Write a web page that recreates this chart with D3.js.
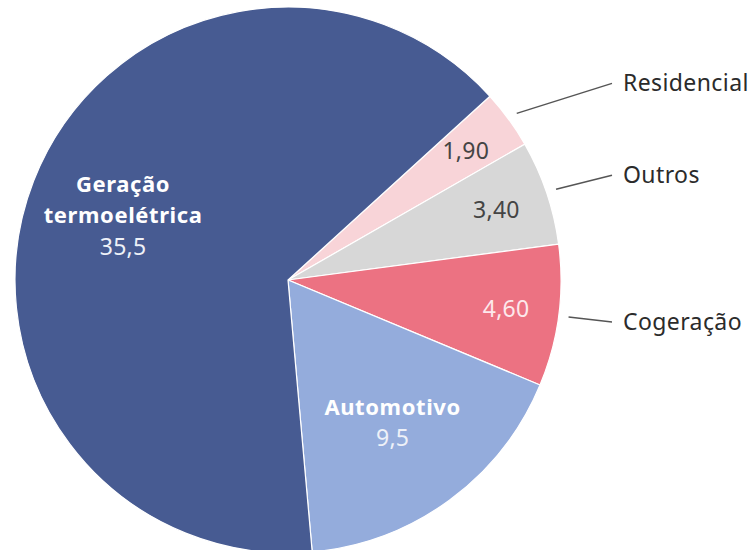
<!DOCTYPE html>
<head>
    <meta charset="utf-8">
    <script src="https://d3js.org/d3.v7.min.js"></script>
    <style>
        body { margin: 0; background: #fff; }
        text { font-family: "Noto Sans", sans-serif; }
    </style>
</head>
<body>
    <svg></svg>
</body>

<script>
    // Data (million)
    var names = ["Residencial", "Outros", "Cogeração", "Automotivo", "Geração termoelétrica"];
    var values = [1.9, 3.4, 4.6, 9.5, 35.5];
    var valueLabels = ["1,90", "3,40", "4,60", "9,5", "35,5"];
    var colors = ["#f8d4d8", "#d7d7d7", "#ec7282", "#94acdc", "#475b92"];

    // Variables
    var width = 753;
    var height = 550;
    var cx = 288, cy = 280;
    var radius = 273;
    var start = 47.7 * Math.PI / 180;

    // labels inside the big slices, leader lines for the small ones
    var inside = { "Automotivo": ["Automotivo"], "Geração termoelétrica": ["Geração", "termoelétrica"] };
    var leaderDy = { "Residencial": -30, "Outros": -14, "Cogeração": 5 };
    var numColor = { "Residencial": "#444", "Outros": "#444", "Cogeração": "#fde8ec" };

    var svg = d3.select('svg')
        .attr('width', width)
        .attr('height', height);

    var g = svg.append('g')
        .attr('transform', 'translate(' + cx + ',' + cy + ')');

    var data = names.map(function (n, i) {
        return { name: n, value: values[i], label: valueLabels[i], color: colors[i] };
    });

    var pie = d3.pie()
        .sort(null)
        .value(function (d) { return d.value; })
        .startAngle(start)
        .endAngle(start + 2 * Math.PI);

    var arcs = pie(data);

    var arc = d3.arc().innerRadius(0).outerRadius(radius);
    var smallLabelArc = d3.arc().innerRadius(220).outerRadius(220);
    var bigLabelArc = d3.arc().innerRadius(177).outerRadius(177);
    var leaderArc = d3.arc().innerRadius(radius + 10).outerRadius(radius + 10);

    // Slices
    g.selectAll('path.slice')
        .data(arcs)
        .enter().append('path')
        .attr('class', 'slice')
        .attr('d', arc)
        .style('fill', function (d) { return d.data.color; })
        .style('stroke', '#fff')
        .style('stroke-width', 1.2);

    // Big slices: name + value inside
    arcs.filter(function (d) { return inside[d.data.name]; }).forEach(function (d) {
        var c = bigLabelArc.centroid(d);
        var lines = inside[d.data.name].concat([d.data.label]);
        var step = 31;
        var y0 = c[1] - (lines.length - 1) * step / 2;
        lines.forEach(function (t, i) {
            var last = i === lines.length - 1;
            g.append('text')
                .attr('x', c[0])
                .attr('y', y0 + i * step)
                .attr('dy', '0.35em')
                .attr('text-anchor', 'middle')
                .style('font-size', last ? '23px' : '22px')
                .style('letter-spacing', last ? '0.3px' : '0.6px')
                .style('font-weight', last ? 'normal' : 'bold')
                .style('fill', last ? '#eef1f8' : '#fff')
                .text(t);
        });
    });

    // Small slices: value inside, name outside with a leader line
    arcs.filter(function (d) { return !inside[d.data.name]; }).forEach(function (d) {
        var c = smallLabelArc.centroid(d);
        g.append('text')
            .attr('x', c[0])
            .attr('y', c[1])
            .attr('dy', '0.35em')
            .attr('text-anchor', 'middle')
            .style('font-size', '23px')
            .style('letter-spacing', '0.3px')
            .style('fill', numColor[d.data.name])
            .text(d.data.label);

        var p = leaderArc.centroid(d);
        var endX = radius + 51;
        var endY = p[1] + leaderDy[d.data.name];
        g.append('line')
            .attr('x1', p[0]).attr('y1', p[1])
            .attr('x2', endX).attr('y2', endY)
            .style('stroke', '#555')
            .style('stroke-width', 1.5);
        g.append('text')
            .attr('x', endX + 11)
            .attr('y', endY)
            .attr('dy', '0.35em')
            .style('font-size', '23px')
            .style('letter-spacing', '0.4px')
            .style('fill', '#2b2b2b')
            .text(d.data.name);
    });
</script>
